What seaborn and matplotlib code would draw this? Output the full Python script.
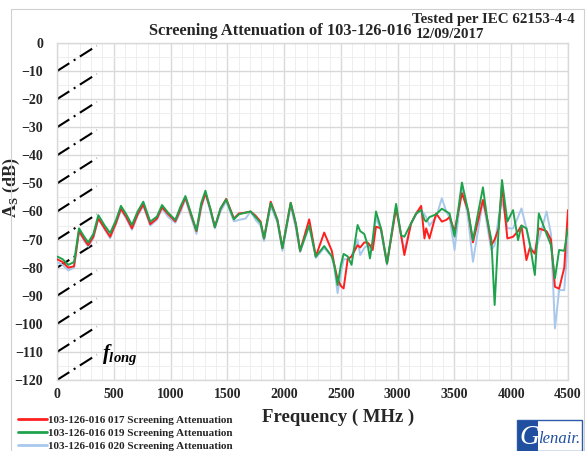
import pandas as pd
import seaborn as sns
import matplotlib.pyplot as plt
from matplotlib.patches import Rectangle
from matplotlib.ticker import MultipleLocator

# Valeurs (MHz / dB)
freq = [0, 50, 100, 150, 194, 240, 275, 320, 364, 420, 468, 520, 563, 610, 660,
        710, 760, 821, 880, 925, 980, 1042, 1090, 1131, 1175, 1228, 1270, 1307,
        1350, 1390, 1440, 1490, 1558, 1602, 1661, 1705, 1749, 1793, 1823, 1882,
        1941, 1985, 2058, 2103, 2141, 2221, 2279, 2353, 2420, 2442, 2471, 2500,
        2524, 2560, 2594, 2647, 2670, 2706, 2736, 2756, 2780, 2809, 2853, 2906,
        2986, 3030, 3059, 3118, 3163, 3207, 3236, 3251, 3280, 3339, 3389, 3428,
        3457, 3501, 3566, 3619, 3663, 3751, 3790, 3825, 3854, 3890, 3919, 3966,
        4016, 4060, 4090, 4134, 4163, 4208, 4243, 4311, 4350, 4385, 4422, 4467,
        4500]

att_017 = [-77, -78, -80, -79.5, -67, -70, -72, -69, -62.5, -66, -69, -64, -59,
           -62, -66, -61, -57.5, -64.5, -62.5, -58.5, -61, -63.5, -59, -55,
           -60.5, -67, -58, -53.5, -59, -65.5, -59, -55.5, -62.5, -60.7, -60.4,
           -60, -61.5, -63.6, -69.6, -56.5, -63, -73, -56.9, -64.5, -74, -62.8,
           -76, -67.5, -74, -79, -84, -86.5, -87.4, -77, -76, -72, -72.8, -71,
           -71.1, -72, -73.7, -65.4, -66, -78.5, -58.8, -68.4, -75.5, -64.2,
           -60.7, -58, -69.6, -66, -69.6, -60.7, -63.6, -63, -62, -67, -53.5,
           -59.5, -71, -55.9, -63, -72, -70, -66, -50.6, -69.6, -69, -67, -65,
           -77.3, -73, -75, -66, -67, -70, -86.8, -87.5, -80, -59.5]

att_019 = [-76, -77, -79, -78, -66, -69, -71, -68, -61.3, -65, -67.7, -63, -58,
           -61, -64.8, -60, -56.5, -63.6, -61.8, -57.7, -60.5, -63, -58, -54.5,
           -60, -66.8, -57, -52.6, -59, -65.6, -58.9, -55.7, -62.8, -61, -60.4,
           -60, -62, -64, -69.6, -57, -63, -73.1, -56.9, -64.2, -74, -65,
           -76.1, -72.3, -76, -79, -86.2, -79, -75.1, -76, -79, -64.8, -67, -68,
           -72, -76.7, -70, -60, -66, -78.5, -57.3, -68.4, -69, -64.2, -60.7,
           -59.5, -63, -63.6, -62, -61, -59, -60, -60.7, -68.9, -49.7, -59.5,
           -70.2, -51.4, -63, -70, -93.3, -65.4, -48.8, -63.6, -59.5, -70.2,
           -65, -66, -71.3, -82.6, -60.7, -68, -72, -83.8, -73.7, -74, -66]

att_020 = [-78, -79, -81, -80, -67, -70.5, -72.5, -69.5, -62.5, -66.5, -69.5,
           -64.5, -59.5, -62.5, -66.5, -61.5, -58, -65, -63, -59, -62, -64, -60,
           -55.5, -61.5, -68, -59, -53.5, -60, -66, -60, -56.5, -63.5, -63,
           -62.5, -60, -63, -65, -70.5, -58, -64, -74, -58, -66, -74.5, -65,
           -76.5, -73, -76, -80, -89.1, -82, -77, -77, -76, -70, -75.5, -73,
           -72, -73, -72, -62, -67, -79, -58, -68.4, -73.8, -64.5, -61, -59.5,
           -61, -62, -65, -62, -55.3, -60, -62, -73.7, -51, -62, -77.9, -56,
           -65.4, -73.7, -72, -62, -55.9, -66, -66, -62, -58.9, -66, -72, -75,
           -70, -60, -68, -101.6, -88, -88, -70]

series_names = ["103-126-016 017 Screening Attenuation",
                "103-126-016 019 Screening Attenuation",
                "103-126-016 020 Screening Attenuation"]
series_colors = ["#ff1f1f", "#1ea34c", "#a8c8ec"]

# lignes pointillées "f long" : départ en dB à 0 MHz
hatch_starts = [-10, -20, -30, -40, -50, -60, -70, -80, -90, -100, -110, -120]
hatch_span = 350
hatch_rise = 9

df = pd.DataFrame({
    "freq": freq * 3,
    "att": att_017 + att_019 + att_020,
    "serie": [series_names[0]] * len(freq) + [series_names[1]] * len(freq)
             + [series_names[2]] * len(freq),
})

sns.set_theme(style="whitegrid")
plt.rcParams["font.family"] = ["Liberation Serif", "DejaVu Serif"]
plt.rcParams["font.weight"] = "bold"
plt.rcParams["mathtext.fontset"] = "custom"
plt.rcParams["mathtext.rm"] = "Liberation Serif:bold"
plt.rcParams["mathtext.it"] = "Liberation Serif:bold:italic"
plt.rcParams["mathtext.bf"] = "Liberation Serif:bold"

fig = plt.figure(figsize=(5.86, 4.51), dpi=100)
fig.patch.set_facecolor("white")
fig.patches.append(Rectangle((11 / 586, -0.01), 573 / 586, 1 - 9 / 451 + 0.01,
                             transform=fig.transFigure, fill=False,
                             edgecolor="#d0d0d0", linewidth=0.8))

ax = fig.add_axes([57 / 586, 1 - 380 / 451, 511 / 586, 337 / 451])
ax.set_facecolor("white")

# ordre de tracé : bleu dessous, puis rouge, puis vert
for name, col, z in [(series_names[2], series_colors[2], 3),
                     (series_names[0], series_colors[0], 4),
                     (series_names[1], series_colors[1], 5)]:
    sns.lineplot(data=df[df["serie"] == name], x="freq", y="att", color=col,
                 linewidth=1.4, ax=ax, label=name, zorder=z, sort=True)

for y0 in hatch_starts:
    ax.plot([0, hatch_span], [y0, y0 + hatch_rise], color="black",
            linewidth=1.5, linestyle=(0, (7, 2.5, 1, 2.5)), zorder=2,
            solid_capstyle="butt", dash_capstyle="butt")

ax.text(400, -112.5, r"$f_{long}$", fontsize=15, color="black", zorder=6)

ax.set_xlim(0, 4500)
ax.set_ylim(-120, 0)
ax.xaxis.set_major_locator(MultipleLocator(500))
ax.xaxis.set_minor_locator(MultipleLocator(100))
ax.yaxis.set_major_locator(MultipleLocator(10))
ax.yaxis.set_minor_locator(MultipleLocator(5))
ax.grid(which="major", color="#d9d9d9", linewidth=1.0)
ax.grid(which="minor", color="#eeeeee", linewidth=0.7)
ax.tick_params(axis="both", which="both", length=0, labelsize=10)
ax.tick_params(axis="y", pad=10)
ax.tick_params(axis="x", pad=6)
for lab in ax.get_xticklabels() + ax.get_yticklabels():
    lab.set_fontweight("bold")
for sp in ax.spines.values():
    sp.set_color("#d9d9d9")
    sp.set_linewidth(1.0)

ax.set_xlabel("Frequency ( MHz )", fontsize=13.5, fontweight="bold")
ax.xaxis.set_label_coords(0.55, -0.085)
ax.set_ylabel(r"A$_{\rm S}$ (dB)", fontsize=13, fontweight="bold")
ax.yaxis.set_label_coords(-0.068, 0.57)

fig.text(280 / 586, 1 - 31 / 451, "Screening Attenuation of 103-126-016",
         ha="center", va="center", fontsize=11.8, fontweight="bold")
fig.text(412 / 586, 1 - 19 / 451, "Tested per IEC 62153-4-4",
         ha="left", va="center", fontsize=10.8, fontweight="bold")
fig.text(416 / 586, 1 - 35 / 451, "12/09/2017",
         ha="left", va="center", fontsize=10.8, fontweight="bold")

# légende dans l'ordre 017, 019, 020
handles, labels = ax.get_legend_handles_labels()
order = [labels.index(n) for n in series_names]
ax.legend().remove()
leg = fig.legend([handles[i] for i in order], [labels[i] for i in order],
                 loc="upper left", bbox_to_anchor=(18 / 586, 1 - 415 / 451),
                 frameon=False, fontsize=8, handlelength=2.6,
                 handletextpad=0.1, labelspacing=0.3, borderpad=0,
                 borderaxespad=0)
for t in leg.get_texts():
    t.set_fontweight("bold")
for h in leg.legend_handles:
    h.set_linewidth(2)

# logo Glenair
fig.patches.append(Rectangle((517 / 586, 0), 65 / 586, 31 / 451,
                             transform=fig.transFigure, facecolor="white",
                             edgecolor="#2d5aa8", linewidth=1.0))
fig.patches.append(Rectangle((518 / 586, 0), 20 / 586, 30 / 451,
                             transform=fig.transFigure, facecolor="#1f4f9e",
                             edgecolor="none"))
fig.text(519 / 586, 14 / 451, "G", color="white", fontsize=20,
         fontstyle="italic", fontweight="normal", ha="left", va="center")
fig.text(538 / 586, 12 / 451, "lenair.", color="#1f4f9e", fontsize=12,
         fontstyle="italic", fontweight="normal", ha="left", va="center")

fig.savefig("out.png", dpi=100, facecolor="white")
